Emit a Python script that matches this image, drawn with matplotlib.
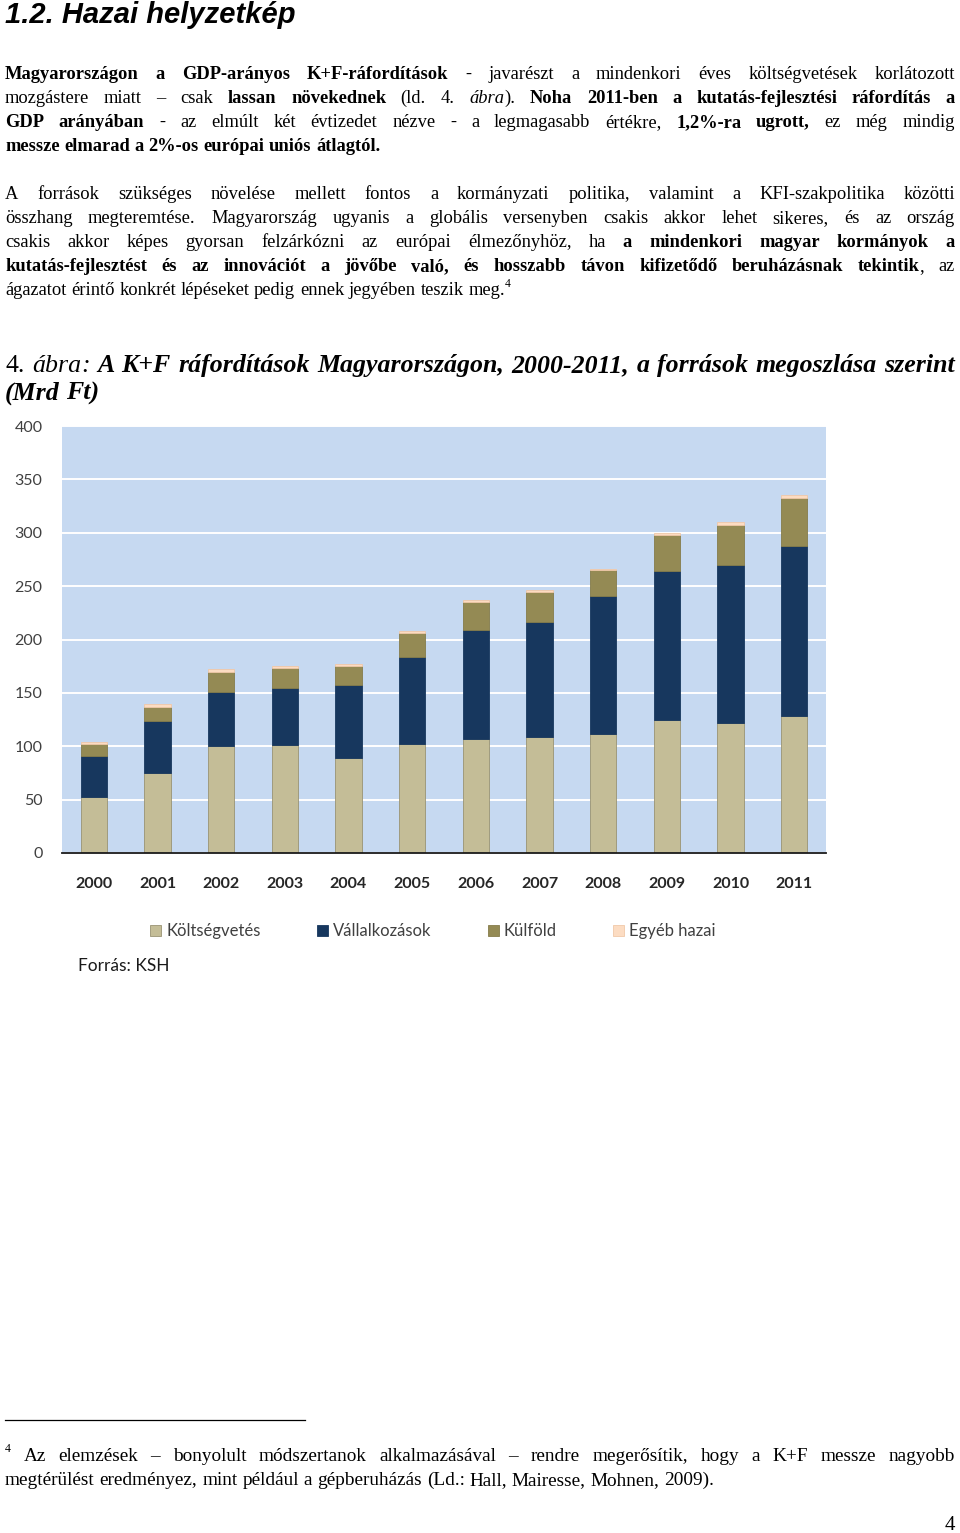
import re

import matplotlib
matplotlib.use("Agg")
import matplotlib.pyplot as plt
import numpy as np
from matplotlib.lines import Line2D

# ---- chart data (Mrd Ft) ----
years = ["2000", "2001", "2002", "2003", "2004", "2005",
         "2006", "2007", "2008", "2009", "2010", "2011"]
koltsegvetes = [52, 75, 100, 101, 89, 102, 106.5, 109, 111.5, 125, 122, 128]
vallalkozasok = [39, 48.5, 51, 54, 68, 82, 102.5, 107.5, 129, 139.5, 147.5, 160]
kulfold = [11, 13.5, 18.5, 18.5, 18.5, 22, 26.5, 28, 24.5, 33, 38, 45]
egyeb_hazai = [2, 2.5, 2.5, 2, 2, 2, 1.5, 1.5, 1.5, 2, 2.5, 2]
series_names = ["Költségvetés", "Vállalkozások", "Külföld", "Egyéb hazai"]
y_ticks = [0, 50, 100, 150, 200, 250, 300, 350, 400]

# ---- page text: lines as (text, style) segments ----
heading = "1.2. Hazai helyzetkép"
para1 = [
    [("Magyarországon a GDP-arányos K+F-ráfordítások", "b"),
     (" - javarészt a mindenkori éves költségvetések korlátozott", "r")],
    [("mozgástere miatt – csak ", "r"), ("lassan növekednek", "b"),
     (" (ld. 4. ", "r"), ("ábra", "i"), ("). ", "r"),
     ("Noha 2011-ben a kutatás-fejlesztési ráfordítás a", "b")],
    [("GDP arányában", "b"),
     (" - az elmúlt két évtizedet nézve - a legmagasabb értékre, ", "r"),
     ("1,2%-ra ugrott,", "b"), (" ez még mindig", "r")],
    [("messze elmarad a 2%-os európai uniós átlagtól.", "b")],
]
para2 = [
    [("A források szükséges növelése mellett fontos a kormányzati politika, "
      "valamint a KFI-szakpolitika közötti", "r")],
    [("összhang megteremtése. Magyarország ugyanis a globális versenyben "
      "csakis akkor lehet sikeres, és az ország", "r")],
    [("csakis akkor képes gyorsan felzárkózni az európai élmezőnyhöz, ha ", "r"),
     ("a mindenkori magyar kormányok a", "b")],
    [("kutatás-fejlesztést és az innovációt a jövőbe való, és hosszabb távon "
      "kifizetődő beruházásnak tekintik", "b"), (", az", "r")],
    [("ágazatot érintő konkrét lépéseket pedig ennek jegyében teszik meg.", "r"),
     ("4", "sup")],
]
caption = [
    [("4.", "r"), (" ", "r"), ("ábra", "i"), (":", "i"),
     (" A K+F ráfordítások Magyarországon, 2000-2011, a források megoszlása szerint", "bi")],
    [("(Mrd Ft)", "bi")],
]
footnote = [
    [("4", "sup"),
     (" Az elemzések – bonyolult módszertanok alkalmazásával – rendre "
      "megerősítik, hogy a K+F messze nagyobb", "r")],
    [("megtérülést eredményez, mint például a gépberuházás "
      "(Ld.: Hall, Mairesse, Mohnen, 2009).", "r")],
]

W, H = 960, 1533
X0, X1 = 5, 955
SERIF = ["Liberation Serif", "DejaVu Serif"]

plt.rcParams["font.family"] = ["Lato", "DejaVu Sans"]
fig = plt.figure(figsize=(W / 100, H / 100), dpi=100)
renderer = fig.canvas.get_renderer()


def text_kw(st, size, family):
    kw = dict(fontsize=size, family=family, fontweight="normal",
              fontstyle="normal")
    if "b" in st:
        kw["fontweight"] = "bold"
    if "i" in st:
        kw["fontstyle"] = "italic"
    if st == "sup":
        kw["fontsize"] = size * 0.62
    return kw


def measure(txt, st, size, family):
    t = fig.text(0, 0, txt, **text_kw(st, size, family))
    w = t.get_window_extent(renderer).width
    t.remove()
    return w


def space_width(size, family):
    return measure("a a", "r", size, family) - measure("aa", "r", size, family)


def split_words(segs):
    words, cur = [], []
    for txt, st in segs:
        for part in re.split(r"(\s+)", txt):
            if not part:
                continue
            if part.isspace():
                if cur:
                    words.append(cur)
                    cur = []
            else:
                cur.append((part, st))
    if cur:
        words.append(cur)
    return words


def natural_width(segs, size, family):
    words = split_words(segs)
    ww = sum(measure(p, st, size, family) for w in words for p, st in w)
    return ww + space_width(size, family) * (len(words) - 1)


def fit_size(lines, base, family, avail=X1 - X0):
    widest = max(natural_width(l, base, family) for l in lines)
    return base * min(1.0, avail / widest) * 0.99


def draw_line(segs, y, size, family, justify=True):
    words = split_words(segs)
    widths = [[measure(p, st, size, family) for p, st in w] for w in words]
    total = sum(sum(w) for w in widths)
    gap = space_width(size, family)
    if justify and len(words) > 1:
        gap = (X1 - X0 - total) / (len(words) - 1)
    x = X0
    for w, wl in zip(words, widths):
        for (p, st), pw in zip(w, wl):
            dy = size * 0.45 * 100 / 72 if st == "sup" else 0
            fig.text(x / W, 1 - (y - dy) / H, p, va="baseline", ha="left",
                     **text_kw(st, size, family))
            x += pw
        x += gap


def draw_block(lines, baselines, size, family):
    for i, (segs, y) in enumerate(zip(lines, baselines)):
        draw_line(segs, y, size, family, justify=i < len(lines) - 1)


# ---- heading ----
hsize = 17 * 290 / measure(heading, "bi", 17, ["Liberation Sans", "DejaVu Sans"])
fig.text(X0 / W, 1 - 23 / H, heading, va="baseline",
         **text_kw("bi", hsize, ["Liberation Sans", "DejaVu Sans"]))

# ---- body paragraphs ----
body_size = fit_size(para1 + para2, 13.5, SERIF)
draw_block(para1, [79, 103, 127, 151], body_size, SERIF)
draw_block(para2, [199, 223, 247, 271, 295], body_size, SERIF)

cap_size = fit_size(caption, 19, SERIF)
draw_block(caption, [372, 400], cap_size, SERIF)

# ---- chart ----
ax = fig.add_axes([62 / W, 1 - 853 / H, 764 / W, 427 / H])
ax.set_facecolor("#c6d9f1")
xpos = np.arange(len(years))
bottom = np.zeros(len(years))
colors = ["#c4bd97", "#17375e", "#948a54", "#fcdcc2"]
edges = ["#9a9474", "#17375e", "#857c4a", "#f0c8a8"]
for vals, name, c, ec in zip([koltsegvetes, vallalkozasok, kulfold, egyeb_hazai],
                             series_names, colors, edges):
    vals = np.asarray(vals, dtype=float)
    ax.bar(xpos, vals, 0.41, bottom=bottom, color=c, edgecolor=ec,
           linewidth=0.6, label=name, zorder=3)
    bottom += vals

ax.set_xlim(-0.5, len(years) - 0.5)
ax.set_ylim(0, 400)
ax.set_yticks(y_ticks)
ax.set_xticks(xpos, years, fontweight="bold")
ax.yaxis.grid(True, color="white", linewidth=1.4)
ax.set_axisbelow(True)
for side in ("top", "right", "left"):
    ax.spines[side].set_visible(False)
ax.spines["bottom"].set_color("#1a1a1a")
ax.spines["bottom"].set_linewidth(1.3)
ax.spines["bottom"].set_zorder(4)
ax.tick_params(axis="y", length=0, pad=14, labelsize=11.5, labelcolor="#404040")
ax.tick_params(axis="x", length=0, pad=17, labelsize=11.5, labelcolor="#262626")

handles, labels = ax.get_legend_handles_labels()
fig.legend(handles, labels, loc="center", bbox_to_anchor=(433 / W, 1 - 931 / H),
           ncol=4, frameon=False, fontsize=12, handlelength=0.65,
           handleheight=0.65, handletextpad=0.3, columnspacing=3.4,
           labelcolor="#404040")
fig.text(78 / W, 1 - 966 / H, "Forrás: KSH", va="center", fontsize=12.5,
         color="#1a1a1a")

# ---- footnote ----
fig.add_artist(Line2D([X0 / W, 305 / W], [1 - 1420 / H, 1 - 1420 / H],
                      color="black", linewidth=0.9))
foot_size = fit_size(footnote, 14, SERIF)
draw_block(footnote, [1461, 1485], foot_size, SERIF)
fig.text(X1 / W, 1 - 1530 / H, "4", ha="right", va="baseline",
         **text_kw("r", 15, SERIF))

fig.savefig("out.png", dpi=100)
